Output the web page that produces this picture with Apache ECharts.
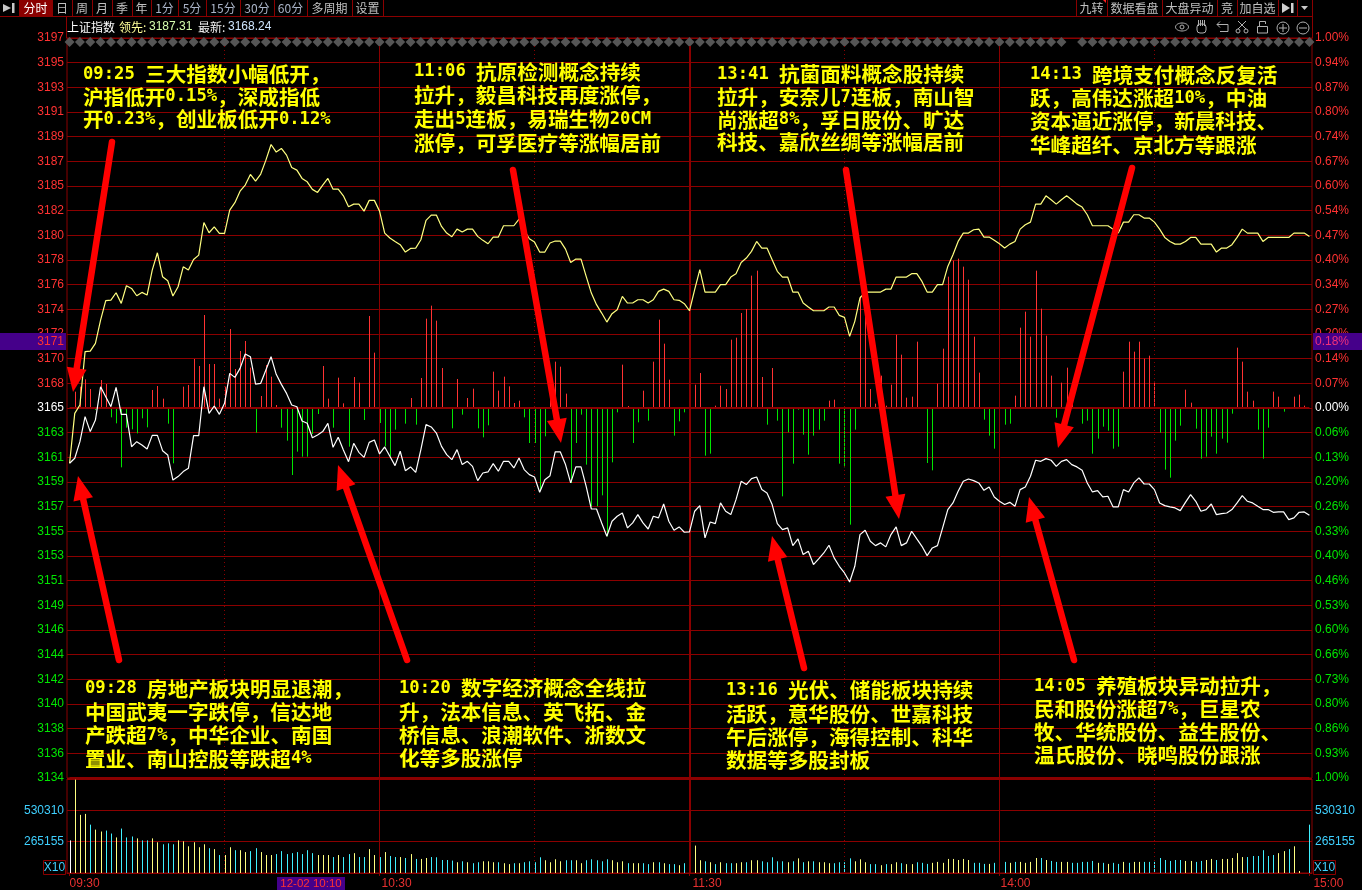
<!DOCTYPE html>
<html>
<head>
<meta charset="utf-8">
<title>上证指数 分时</title>
<style>
  html, body { margin: 0; padding: 0; background: #000; }
  #chart { width: 1362px; height: 890px; }
</style>
<script src="https://cdn.jsdelivr.net/npm/echarts@6/dist/echarts.min.js"></script>
</head>
<body>
<div id="chart"></div>
<script>
// 领先指标 (yellow)
const leadLine = [
  3160.27,3164.54,3165.26,3169.82,3169.87,3170.53,3172.52,3174.18,3174.23,3174.86,
  3173.95,3175.46,3175.23,3174.60,3174.89,3174.66,3176.80,3178.28,3176.23,3175.89,
  3174.58,3175.37,3177.08,3176.80,3177.71,3178.08,3180.87,3179.99,3180.50,3179.93,
  3179.93,3181.93,3182.56,3183.55,3184.07,3184.98,3184.41,3185.01,3186.20,3187.54,
  3186.89,3187.20,3186.63,3185.58,3185.35,3184.64,3184.35,3183.70,3183.44,3184.07,
  3184.64,3183.72,3183.72,3183.15,3182.21,3182.44,3182.44,3181.84,3182.76,3182.76,
  3181.84,3179.96,3179.54,3179.25,3178.97,3178.34,3178.65,3178.68,3179.39,3181.05,
  3181.50,3181.50,3180.53,3179.96,3179.65,3180.30,3180.05,3180.30,3180.30,3179.68,
  3179.34,3179.05,3179.62,3179.62,3180.59,3180.59,3180.59,3181.16,3180.19,3179.48,
  3179.19,3178.34,3178.34,3179.11,3179.28,3179.28,3178.59,3177.45,3177.74,3177.74,
  3176.26,3174.83,3173.84,3173.12,3172.35,3173.07,3173.41,3174.55,3173.98,3173.98,
  3174.26,3174.26,3173.98,3174.26,3174.98,3175.17,3174.98,3174.26,3174.21,3173.92,
  3173.32,3175.12,3176.83,3174.92,3174.92,3174.92,3175.55,3175.55,3176.20,3176.49,
  3177.45,3177.83,3178.40,3179.25,3178.68,3178.68,3177.68,3176.69,3176.20,3176.20,
  3174.92,3174.92,3173.98,3173.64,3173.32,3173.32,3173.32,3173.64,3173.64,3172.92,
  3172.75,3171.13,3172.41,3174.41,3174.92,3174.92,3174.92,3174.92,3175.17,3175.17,
  3176.20,3176.20,3176.20,3176.49,3176.49,3175.83,3174.92,3174.92,3175.55,3175.55,
  3177.11,3178.11,3179.25,3179.96,3179.96,3180.25,3180.30,3179.62,3179.62,3179.34,
  3179.05,3178.68,3179.02,3179.25,3180.30,3180.68,3180.90,3182.44,3182.44,3183.15,
  3182.81,3182.44,3182.81,3183.15,3182.81,3182.44,3182.19,3181.53,3180.59,3180.59,
  3180.59,3180.59,3180.30,3179.96,3180.90,3180.90,3181.53,3181.53,3181.25,3181.25,
  3180.90,3180.30,3179.59,3179.25,3179.02,3179.02,3179.25,3179.59,3179.59,3179.02,
  3179.02,3179.02,3178.34,3178.68,3178.68,3178.97,3179.59,3180.30,3179.96,3179.96,
  3179.96,3179.25,3179.59,3179.59,3179.59,3179.59,3179.59,3179.96,3179.96,3179.96,3179.68
];

// 最新价 (white)
const lastLine = [
  3160.27,3160.70,3162.12,3164.26,3162.98,3163.97,3166.82,3165.97,3165.11,3166.77,
  3164.46,3164.46,3161.69,3162.12,3161.84,3161.49,3162.66,3162.66,3161.35,3160.98,
  3158.84,3159.13,3159.56,3159.84,3162.63,3162.63,3166.82,3164.54,3165.17,3164.46,
  3165.40,3167.96,3167.62,3168.39,3169.62,3169.39,3167.05,3167.11,3168.25,3169.39,
  3167.88,3167.02,3166.25,3165.26,3165.11,3163.89,3163.69,3162.46,3162.69,3162.98,
  3163.69,3161.64,3162.49,3161.41,3160.41,3161.98,3161.21,3160.78,3162.06,3162.26,
  3161.07,3161.67,3160.87,3160.07,3161.30,3159.64,3159.96,3159.50,3161.44,3163.58,
  3163.38,3162.86,3161.72,3161.01,3160.58,3161.44,3160.16,3160.44,3160.01,3158.79,
  3159.44,3159.53,3160.24,3159.59,3160.44,3160.44,3159.87,3160.73,3159.73,3159.30,
  3159.10,3157.79,3158.87,3159.21,3161.24,3161.24,3160.16,3158.59,3159.96,3159.96,
  3158.30,3156.36,3156.36,3155.17,3154.03,3155.31,3155.74,3156.02,3154.74,3155.17,
  3155.88,3155.17,3154.65,3155.74,3155.60,3156.79,3155.31,3154.54,3154.83,3154.37,
  3154.40,3156.17,3156.65,3153.89,3155.25,3155.11,3156.88,3156.17,3155.88,3157.16,
  3158.73,3158.45,3158.96,3159.10,3158.02,3157.73,3156.74,3155.11,3154.60,3154.74,
  3153.23,3153.80,3152.46,3152.75,3151.61,3152.09,3152.60,3153.26,3152.18,3151.46,
  3150.89,3150.12,3151.46,3154.17,3154.54,3153.60,3153.23,3153.46,3153.12,3154.17,
  3154.83,3153.23,3153.46,3154.46,3153.80,3153.17,3152.37,3153.03,3153.23,3154.74,
  3156.31,3156.88,3157.88,3158.73,3158.93,3158.79,3158.59,3157.96,3158.25,3157.39,
  3157.02,3156.74,3156.93,3156.59,3158.02,3158.25,3159.16,3160.53,3160.44,3160.67,
  3160.53,3160.01,3160.44,3160.58,3160.16,3159.96,3159.67,3158.59,3157.82,3157.93,
  3157.39,3157.45,3156.54,3156.54,3158.02,3157.82,3158.59,3159.02,3158.50,3158.50,
  3158.02,3156.88,3156.65,3156.54,3156.45,3156.22,3156.93,3157.59,3157.02,3156.17,
  3156.31,3156.79,3155.88,3155.97,3156.02,3156.31,3156.88,3157.50,3157.02,3156.88,
  3156.59,3156.31,3156.31,3156.08,3156.11,3156.11,3155.45,3155.60,3156.08,3156.11,3155.82
];

// 红绿柱, no scale in the picture so these are relative heights
const flowBars = [
  0,49,64,86,57,-6,84,72,-28,-46,
  -178,-59,-64,-76,-31,-58,54,66,28,-47,
  -166,-2,64,69,147,126,279,132,132,28,
  64,237,117,171,201,121,-74,36,129,94,
  9,-59,-98,-201,-131,-146,-146,-78,-18,126,
  28,-59,91,14,-116,93,76,-36,276,166,
  -45,-115,-145,-65,0,-47,30,-50,90,268,
  307,262,120,-3,-61,87,-20,30,58,-61,
  -88,-52,109,52,94,65,15,22,-28,-105,
  -105,-245,-85,30,139,124,43,-225,-105,-20,
  -170,-295,-295,-262,-385,-163,-13,130,6,-105,
  -43,52,-38,139,265,193,85,-83,-40,-13,
  0,70,105,-143,-137,7,67,57,205,211,
  285,297,397,412,93,-50,120,-38,-265,-73,
  -167,-5,-80,-140,-83,-65,-38,22,25,-167,
  -178,-350,-65,335,277,57,13,97,7,70,
  220,160,31,34,199,-2,-165,-187,73,178,
  394,442,448,424,385,214,106,-35,-83,-122,
  -55,-50,-47,37,241,289,214,412,298,217,
  97,-29,76,121,28,-2,-47,-38,-137,-92,
  -56,-68,-122,-116,109,199,169,199,148,157,
  79,-74,-185,-209,-98,-53,55,16,-62,-152,
  -146,-86,-137,-92,-104,-17,181,139,49,22,
  -65,-152,-59,49,34,-11,-2,34,40,7,0
];

// 成交量, in thousands
const volumeK = [
  276,790,492,500,409,367,351,359,334,301,
  376,301,309,293,276,276,293,260,243,251,
  243,276,268,226,260,218,243,210,202,152,
  152,218,193,193,177,185,210,177,152,152,
  160,185,160,168,177,160,193,168,152,152,
  152,135,152,135,160,168,135,135,202,152,
  135,177,144,135,135,127,160,119,119,127,
  135,133,110,110,105,91,99,91,83,91,
  99,99,91,91,83,75,83,83,91,99,
  91,133,108,91,116,99,108,108,108,83,
  108,116,108,99,116,108,91,99,83,83,
  83,83,75,91,91,83,75,75,66,83,
  83,232,108,99,91,75,91,83,83,83,
  91,91,108,108,99,91,133,99,99,91,
  99,124,91,99,99,91,91,83,83,91,
  91,124,99,116,91,75,75,66,75,75,
  91,83,75,75,91,86,77,86,94,86,
  119,119,110,119,110,86,86,77,77,86,
  77,94,86,94,94,86,94,127,127,110,
  102,94,94,94,86,86,94,94,102,86,
  86,77,86,77,94,86,94,94,94,94,
  94,127,110,102,110,110,102,102,94,102,
  110,119,110,119,119,127,168,135,135,144,
  144,193,144,152,168,185,202,226,17,0,409
];

const priceLabels = ['3197','3195','3193','3191','3189','3187','3185','3182','3180','3178','3176','3174','3172','3170','3168','3165',
  '3163','3161','3159','3157','3155','3153','3151','3149','3146','3144','3142','3140','3138','3136','3134'];
const pctLabels = ['1.00%','0.94%','0.87%','0.80%','0.74%','0.67%','0.60%','0.54%','0.47%','0.40%','0.34%','0.27%','0.20%','0.14%','0.07%','0.00%',
  '0.06%','0.13%','0.20%','0.26%','0.33%','0.40%','0.46%','0.53%','0.60%','0.66%','0.73%','0.80%','0.86%','0.93%','1.00%'];
const volumeLabels = ['', '265155', '530310', ''];
const timeTicks = ['09:30', '10:30', '11:30', '14:00', '15:00'];
const halfHourTicks = ['10:00', '11:00', '13:30', '14:30'];

const notes = [
  { x: 83, y: 63, lh: 22.5, lines: ['09:25 三大指数小幅低开，', '沪指低开0.15%，深成指低', '开0.23%，创业板低开0.12%'] },
  { x: 414, y: 60, lh: 23.7, lines: ['11:06 抗原检测概念持续', '拉升，毅昌科技再度涨停，', '走出5连板，易瑞生物20CM', '涨停，可孚医疗等涨幅居前'] },
  { x: 717, y: 63, lh: 22.7, lines: ['13:41 抗菌面料概念股持续', '拉升，安奈儿7连板，南山智', '尚涨超8%，孚日股份、旷达', '科技、嘉欣丝绸等涨幅居前'] },
  { x: 1030, y: 63, lh: 23.4, lines: ['14:13 跨境支付概念反复活', '跃，高伟达涨超10%，中油', '资本逼近涨停，新晨科技、', '华峰超纤、京北方等跟涨'] },
  { x: 85, y: 677, lh: 23.4, lines: ['09:28 房地产板块明显退潮，', '中国武夷一字跌停，信达地', '产跌超7%，中华企业、南国', '置业、南山控股等跌超4%'] },
  { x: 399, y: 677, lh: 23.2, lines: ['10:20 数字经济概念全线拉', '升，法本信息、英飞拓、金', '桥信息、浪潮软件、浙数文', '化等多股涨停'] },
  { x: 726, y: 679, lh: 23.2, lines: ['13:16 光伏、储能板块持续', '活跃，意华股份、世嘉科技', '午后涨停，海得控制、科华', '数据等多股封板'] },
  { x: 1034, y: 675, lh: 23, lines: ['14:05 养殖板块异动拉升，', '民和股份涨超7%，巨星农', '牧、华统股份、益生股份、', '温氏股份、晓鸣股份跟涨'] }
];

// annotation arrows: tail x, tail y, tip x, tip y
const arrowLines = [
  [112, 142, 73, 392],
  [119, 660, 78, 476],
  [407, 660, 338, 465],
  [513, 170, 561, 443],
  [804, 668, 772, 536],
  [846, 170, 899, 519],
  [1074, 660, 1029, 497],
  [1132, 168, 1058, 448]
];

// toolbar: label, left, right
const leftTabs = [['分时',19,52],['日',52,72],['周',72,92],['月',92,112],['季',112,132],['年',132,151],['1分',151,178],['5分',178,206],
  ['15分',206,240],['30分',240,274],['60分',274,307],['多周期',307,352],['设置',352,383]];
const rightTabs = [['九转',1076,1107],['数据看盘',1107,1162],['大盘异动',1162,1217],['竞',1217,1237],['加自选',1237,1278]];

// one category per minute, 09:30-11:30 then 13:01-15:00
const minutes = [];
for (let i = 0; i < 241; i++) {
  const m = i <= 120 ? 570 + i : 660 + i;
  minutes.push(String(Math.floor(m / 60)).padStart(2, '0') + ':' + String(m % 60).padStart(2, '0'));
}

const RED = '#ff3232';
const GREEN = '#00e600';
const DARK = '#8b0000';
const CYAN = '#3fd0ff';
const FONT = '"Liberation Sans", Arial, sans-serif';
const CJK = '"Noto Sans CJK SC", sans-serif';

const PRICE_STEP = 2.11;
const FLOW_STEP = 74;
const VOL_STEP = 265.155;

function priceColor(value) {
  const k = Math.round((value - 3165) / PRICE_STEP);
  return k > 0 ? RED : k < 0 ? GREEN : '#ffffff';
}
function flowColor(value) {
  const k = Math.round(value / FLOW_STEP);
  return k > 0 ? RED : k < 0 ? GREEN : '#ffffff';
}

// volume bars follow the last price: yellow up, cyan down, a flat minute keeps the previous colour
const volumeColors = ['#ffffff'];
for (let i = 1; i < lastLine.length; i++) {
  if (lastLine[i] > lastLine[i - 1]) volumeColors.push('#ffff80');
  else if (lastLine[i] < lastLine[i - 1]) volumeColors.push('#40f0ff');
  else volumeColors.push(i === 1 ? '#ffff80' : volumeColors[i - 1]);
}

// thin bars snapped to a whole pixel column so they stay bright like the terminal's
function hairBar(colorOf) {
  return function (params, api) {
    const i = api.value(0);
    const v = api.value(1);
    if (!v) return null;
    const base = api.coord([i, 0]);
    const top = api.coord([i, v]);
    const x = Math.round(base[0]) + 0.5;
    return {
      type: 'line',
      shape: { x1: x, y1: base[1], x2: x, y2: top[1] },
      style: { stroke: colorOf(v, i), lineWidth: 1 }
    };
  };
}

function vLine(name, width, type) {
  return [
    { xAxis: name, yAxis: 1086, lineStyle: { color: DARK, width: width, type: type } },
    { xAxis: name, yAxis: -1110 }
  ];
}
function vLineLow(name, width, type) {
  return [
    { xAxis: name, yAxis: 0, lineStyle: { color: DARK, width: width, type: type } },
    { xAxis: name, yAxis: VOL_STEP * 3 }
  ];
}

const solidTicks = [['10:30', 1], ['11:30', 2], ['14:00', 1]];

function txt(text, x, y, fill, size, align, extra) {
  return {
    type: 'text', z: 60, silent: true, x: x, y: y,
    style: Object.assign({ text: text, fill: fill, font: size + 'px ' + CJK, align: align || 'left', verticalAlign: 'middle' }, extra || {})
  };
}
function box(x, y, w, h, fill, stroke) {
  return { type: 'rect', z: 55, silent: true, shape: { x: x, y: y, width: w, height: h }, style: { fill: fill || 'transparent', stroke: stroke || null, lineWidth: 1 } };
}
function seg(x1, y1, x2, y2, color, w) {
  return { type: 'line', z: 55, silent: true, shape: { x1: x1, y1: y1, x2: x2, y2: y2 }, style: { stroke: color, lineWidth: w || 1 } };
}
function poly(points, fill) {
  return { type: 'polygon', z: 70, silent: true, shape: { points: points }, style: { fill: fill } };
}
function outline(shape, cx, cy, extra) {
  return { type: shape, z: 60, silent: true, shape: Object.assign({ cx: cx, cy: cy }, extra), style: { fill: 'transparent', stroke: '#b0b0b0', lineWidth: 1 } };
}
// half-width latin runs in a mono font, like the bitmap CJK font of the terminal
function richLine(line) {
  return '{c|' + line.replace(/[\x20-\x7e]+/g, m => '}{d|' + m + '}{c|') + '}';
}

function buildGraphic() {
  const g = [];

  // toolbar
  g.push(seg(0, 16.5, 1312, 16.5, DARK));
  g.push(seg(66.5, 16, 66.5, 38, DARK));
  g.push(seg(1312.5, 0, 1312.5, 38, DARK));
  g.push(box(19, 0, 33, 16, '#8b0000'));
  leftTabs.forEach(t => {
    const tinted = /\d/.test(t[0]);
    g.push(seg(t[2] + 0.5, 0, t[2] + 0.5, 16, DARK));
    g.push(txt(t[0], (t[1] + t[2]) / 2, 8, t[0] === '分时' ? '#ffffff' : tinted ? '#aab4c8' : '#c0c0c0', 12, 'center'));
  });
  rightTabs.forEach(t => {
    g.push(seg(t[1] + 0.5, 0, t[1] + 0.5, 16, DARK));
    g.push(txt(t[0], (t[1] + t[2]) / 2, 8, '#c0c0c0', 12, 'center'));
  });
  g.push(seg(1278.5, 0, 1278.5, 16, DARK));
  g.push(seg(1297.5, 0, 1297.5, 16, DARK));
  g.push(poly([[1103, 0], [1106, 0], [1106, 3]], '#ff2020'));
  g.push(poly([[3, 4], [11, 8], [3, 12]], '#c8c8c8'), box(3, 7, 3, 2, '#c8c8c8'), box(12, 3, 2.5, 10, '#c8c8c8'));
  g.push(poly([[1282, 3], [1290, 8], [1282, 13]], '#d0d0d0'), box(1291, 3, 2.5, 10, '#d0d0d0'));
  g.push(poly([[1301, 6], [1308, 6], [1304.5, 10]], '#c8c8c8'));

  // header readout
  g.push(txt('上证指数', 67, 27, '#ffffff', 12));
  g.push(txt('领先:', 119, 27, '#ffff99', 12));
  g.push(txt('3187.31', 149, 27, '#d8ffb0', 12, 'left', { font: '12px ' + FONT }));
  g.push(txt('最新:', 198, 27, '#f0f0f0', 12));
  g.push(txt('3168.24', 228, 27, '#cfe6ff', 12, 'left', { font: '12px ' + FONT }));

  // icons at the right of the header
  g.push(outline('ellipse', 1182, 27, { rx: 6.5, ry: 4 }), outline('circle', 1182, 27, { r: 2 }));
  g.push({ type: 'rect', z: 60, silent: true, shape: { x: 1197, y: 24, width: 9, height: 9, r: 3 }, style: { fill: 'transparent', stroke: '#b0b0b0' } });
  [1198, 1200, 1202, 1204].forEach(x => g.push(seg(x + 0.5, 20, x + 0.5, 26, '#b0b0b0')));
  g.push(seg(1217, 24.5, 1228, 24.5, '#b0b0b0'), seg(1217, 24.5, 1220, 21.5, '#b0b0b0'), seg(1217, 24.5, 1220, 27.5, '#b0b0b0'));
  g.push(seg(1228, 24.5, 1228, 31.5, '#b0b0b0'), seg(1220, 31.5, 1228, 31.5, '#b0b0b0'));
  g.push(seg(1238, 21, 1246, 29, '#b0b0b0'), seg(1246, 21, 1238, 29, '#b0b0b0'), outline('circle', 1238, 31, { r: 2 }), outline('circle', 1246, 31, { r: 2 }));
  g.push(box(1257.5, 26.5, 10, 6.5, null, '#b0b0b0'), seg(1259.5, 21.5, 1259.5, 26, '#b0b0b0'), seg(1259.5, 21.5, 1265.5, 21.5, '#b0b0b0'), seg(1265.5, 21.5, 1265.5, 24, '#b0b0b0'));
  g.push(outline('circle', 1283, 28, { r: 6 }), seg(1279, 28, 1287, 28, '#b0b0b0'), seg(1283, 24, 1283, 32, '#b0b0b0'));
  g.push(outline('circle', 1303, 28, { r: 6 }), seg(1299, 28, 1307, 28, '#b0b0b0'));

  // cursor tags on the axes
  g.push(box(0, 333, 66, 17, '#45008a'), box(1313, 333, 49, 17, '#45008a'));
  g.push(txt('3171', 64, 341.5, RED, 12, 'right', { font: '12px ' + FONT }));
  g.push(txt('0.18%', 1315, 341.5, '#f0307a', 12, 'left', { font: '12px ' + FONT }));
  g.push(box(277, 877, 68, 13, '#45008a'));
  g.push(txt('12-02 10:10', 311, 884, RED, 11, 'center', { font: '11.5px ' + FONT }));

  // X10 boxes
  g.push(box(43.5, 860.5, 22, 14, null, DARK), txt('X10', 54.5, 868, CYAN, 12, 'center', { font: '12px ' + FONT }));
  g.push(box(1313.5, 860.5, 22, 14, null, DARK), txt('X10', 1324.5, 868, CYAN, 12, 'center', { font: '12px ' + FONT }));

  // notes
  notes.forEach(n => {
    g.push({
      type: 'text', z: 80, silent: true, x: n.x, y: n.y,
      style: {
        text: n.lines.map(richLine).join('\n'),
        verticalAlign: 'top',
        rich: {
          c: { font: 'bold 20.6px ' + CJK, fill: '#ffff00', lineHeight: n.lh },
          d: { font: 'bold 17.2px "DejaVu Sans Mono", monospace', fill: '#ffff00', lineHeight: n.lh }
        }
      }
    });
  });

  // red arrows
  arrowLines.forEach(a => {
    const dx = a[2] - a[0], dy = a[3] - a[1];
    const len = Math.sqrt(dx * dx + dy * dy);
    const ux = dx / len, uy = dy / len;
    const bx = a[2] - ux * 24, by = a[3] - uy * 24;
    g.push({ type: 'line', z: 70, silent: true, shape: { x1: a[0], y1: a[1], x2: bx, y2: by }, style: { stroke: '#ff0000', lineWidth: 6.5, lineCap: 'round' } });
    g.push(poly([[a[2], a[3]], [bx - uy * 10, by + ux * 10], [bx + uy * 10, by - ux * 10]], '#ff0000'));
  });

  return g;
}

const option = {
  backgroundColor: '#000',
  animation: false,
  textStyle: { fontFamily: FONT },
  grid: [
    { left: 67, right: 50, top: 38, height: 740, show: true, borderColor: DARK, borderWidth: 1, backgroundColor: 'transparent' },
    { left: 67, right: 50, top: 779, height: 96.6, show: true, borderColor: DARK, borderWidth: 1, backgroundColor: 'transparent' }
  ],
  xAxis: [
    {
      type: 'category', gridIndex: 0, data: minutes, boundaryGap: true,
      axisLine: { show: false }, axisTick: { show: false }, axisLabel: { show: false }, splitLine: { show: false }
    },
    {
      type: 'category', gridIndex: 1, data: minutes, boundaryGap: true,
      axisLine: { lineStyle: { color: DARK } },
      axisTick: { show: true, alignWithLabel: true, length: 3, interval: (i, name) => timeTicks.includes(name), lineStyle: { color: DARK } },
      axisLabel: {
        interval: (i, name) => timeTicks.includes(name),
        color: '#e83030', fontSize: 12, fontFamily: FONT, align: 'left', margin: 5, hideOverlap: false,
        showMinLabel: true, showMaxLabel: true,
        formatter: value => {
          const key = { '10:30': 'p2', '11:30': 'p3', '14:00': 'p1', '15:00': 'p4' }[value];
          return key ? '{' + key + '|' + value + '}' : value;
        },
        rich: {
          p1: { color: '#e83030', fontSize: 12, padding: [0, 0, 0, 1] },
          p2: { color: '#e83030', fontSize: 12, padding: [0, 0, 0, 2] },
          p3: { color: '#e83030', fontSize: 12, padding: [0, 0, 0, 3] },
          p4: { color: '#e83030', fontSize: 12, padding: [0, 0, 0, 4] }
        }
      },
      splitLine: { show: false }
    }
  ],
  yAxis: [
    {
      type: 'value', gridIndex: 0, position: 'left', min: 3133.35, max: 3196.65, interval: PRICE_STEP, scale: true,
      axisLine: { show: false }, axisTick: { show: false },
      splitLine: { show: true, lineStyle: { color: DARK, width: 1 } },
      axisLabel: {
        margin: 3, fontSize: 12, fontFamily: FONT, padding: [2, 0, 0, 0],
        color: value => priceColor(value),
        formatter: value => priceLabels[30 - Math.round((value - 3133.35) / PRICE_STEP)]
      }
    },
    {
      type: 'value', gridIndex: 0, position: 'right', min: -1110, max: 1110, interval: FLOW_STEP,
      axisLine: { show: false }, axisTick: { show: false }, splitLine: { show: false },
      axisLabel: {
        margin: 3, fontSize: 12, fontFamily: FONT, padding: [2, 0, 0, 0],
        color: value => flowColor(value),
        formatter: value => pctLabels[30 - Math.round((value + 1110) / FLOW_STEP)]
      }
    },
    {
      type: 'value', gridIndex: 1, position: 'left', min: 0, max: VOL_STEP * 3, interval: VOL_STEP,
      axisLine: { show: false }, axisTick: { show: false },
      splitLine: { show: true, lineStyle: { color: DARK, width: 1 } },
      axisLabel: { margin: 3, fontSize: 12, fontFamily: FONT, color: CYAN, formatter: value => volumeLabels[Math.round(value / VOL_STEP)] }
    },
    {
      type: 'value', gridIndex: 1, position: 'right', min: 0, max: VOL_STEP * 3, interval: VOL_STEP,
      axisLine: { show: false }, axisTick: { show: false }, splitLine: { show: false },
      axisLabel: { margin: 3, fontSize: 12, fontFamily: FONT, color: CYAN, formatter: value => volumeLabels[Math.round(value / VOL_STEP)] }
    }
  ],
  series: [
    {
      name: '红绿柱', type: 'custom', xAxisIndex: 0, yAxisIndex: 1, z: 3,
      renderItem: hairBar(v => (v >= 0 ? RED : GREEN)),
      encode: { x: 0, y: 1 },
      data: flowBars.map((v, i) => [i, v]),
      markLine: {
        silent: true, symbol: 'none', label: { show: false }, animation: false,
        data: [
          ...solidTicks.map(t => vLine(t[0], t[1], 'solid')),
          ...halfHourTicks.map(t => vLine(t, 1, [1, 3])),
          [{ xAxis: minutes[0], yAxis: 0, lineStyle: { color: DARK, width: 2, type: 'solid' } }, { xAxis: minutes[240], yAxis: 0 }],
          [{ xAxis: minutes[0], yAxis: -1110, lineStyle: { color: DARK, width: 2, type: 'solid' } }, { xAxis: minutes[240], yAxis: -1110 }]
        ]
      }
    },
    {
      name: '领先', type: 'line', xAxisIndex: 0, yAxisIndex: 0, data: leadLine, z: 5,
      showSymbol: false, symbol: 'none', smooth: false, lineStyle: { color: '#ffff80', width: 1.2 }
    },
    {
      name: '最新', type: 'line', xAxisIndex: 0, yAxisIndex: 0, data: lastLine, z: 6,
      showSymbol: false, symbol: 'none', smooth: false, lineStyle: { color: '#ffffff', width: 1.2 }
    },
    {
      name: '成交量', type: 'custom', xAxisIndex: 1, yAxisIndex: 2, z: 3,
      renderItem: hairBar((v, i) => volumeColors[i]),
      encode: { x: 0, y: 1 },
      data: volumeK.map((v, i) => [i, v]),
      markLine: {
        silent: true, symbol: 'none', label: { show: false }, animation: false,
        data: [
          ...solidTicks.map(t => vLineLow(t[0], t[1], 'solid')),
          ...halfHourTicks.map(t => vLineLow(t, 1, [1, 3]))
        ]
      }
    }
  ],
  graphic: { elements: [] }
};

// row of grey diamonds along the top of the price panel
const diamondSlots = [];
for (let i = 0; i < 241; i += 2) {
  if (i !== 194) diamondSlots.push([minutes[i], 3196.3]);
}
option.series.push({
  name: '标记', type: 'scatter', xAxisIndex: 0, yAxisIndex: 0, data: diamondSlots, z: 4,
  symbol: 'diamond', symbolSize: 10, itemStyle: { color: '#555555', opacity: 1 }, clip: false
});

option.graphic.elements = buildGraphic();

const chart = echarts.init(document.getElementById('chart'), null, { renderer: 'canvas', width: 1362, height: 890 });
chart.setOption(option);
</script>
</body>
</html>
